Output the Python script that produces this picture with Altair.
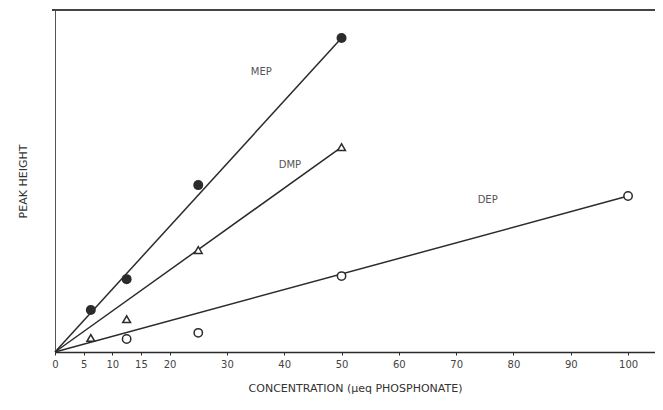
import altair as alt
import pandas as pd

# Data
mep_x = [6.25, 12.5, 25, 50]
mep_y = [12.3, 21.3, 48.8, 91.8]
dmp_x = [6.25, 12.5, 25, 50]
dmp_y = [4.1, 9.6, 29.8, 59.9]
dep_x = [12.5, 25, 50, 100]
dep_y = [3.8, 5.6, 22.2, 45.6]

# fitted lines (origin to end)
fit_series = ["MEP", "MEP", "DMP", "DMP", "DEP", "DEP"]
fit_x = [0, 50, 0, 50, 0, 100]
fit_y = [0, 91.8, 0, 59.9, 0, 45.6]

label_text = ["MEP", "DMP", "DEP"]
label_x = [36, 41, 75.5]
label_y = [82, 54.7, 44.5]

tick_values = [0, 5, 10, 15, 20, 30, 40, 50, 60, 70, 80, 90, 100]

FONT = "DejaVu Sans"
INK = "#2b2b2b"

fit_df = pd.DataFrame({"series": fit_series, "x": fit_x, "y": fit_y})
mep_df = pd.DataFrame({"x": mep_x, "y": mep_y})
dmp_df = pd.DataFrame({"x": dmp_x, "y": dmp_y})
dep_df = pd.DataFrame({"x": dep_x, "y": dep_y})
lab_df = pd.DataFrame({"t": label_text, "x": label_x, "y": label_y})

xscale = alt.Scale(domain=[0, 104.7], nice=False, zero=False)
yscale = alt.Scale(domain=[0, 100], nice=False, zero=False)

xaxis = alt.Axis(values=tick_values, format="d", title="CONCENTRATION (\u03bceq PHOSPHONATE)",
                 grid=False, tickSize=3, labelFontSize=10, labelFont=FONT, labelColor="#444",
                 domainColor=INK, tickColor=INK, domainWidth=1.3, titleFont=FONT,
                 titleFontSize=11, titleFontWeight="normal", titleColor="#333",
                 titlePadding=13, labelPadding=4, labelFlush=False, labelOverlap=False)
yaxis = alt.Axis(labels=False, ticks=False, grid=False, title="PEAK HEIGHT",
                 domainColor="#555", domainWidth=1, titleFont=FONT, titleFontSize=11,
                 titleFontWeight="normal", titleColor="#333", titlePadding=27)

X = alt.X("x:Q", scale=xscale, axis=xaxis)
Y = alt.Y("y:Q", scale=yscale, axis=yaxis)

lines = alt.Chart(fit_df).mark_line(color=INK, strokeWidth=1.5).encode(
    x=X, y=Y, detail="series:N")

mep_pts = alt.Chart(mep_df).mark_point(shape="circle", filled=True, color=INK, size=100, opacity=1).encode(x=X, y=Y)
dmp_pts = alt.Chart(dmp_df).mark_point(shape="triangle-up", filled=True, fill="white", stroke=INK,
                                       strokeWidth=1.5, size=60, opacity=1).encode(x=X, y=Y)
dep_pts = alt.Chart(dep_df).mark_point(shape="circle", filled=True, fill="white", stroke=INK,
                                       strokeWidth=1.5, size=70, opacity=1).encode(x=X, y=Y)

labels = alt.Chart(lab_df).mark_text(font=FONT, fontSize=10, color="#555", align="center").encode(
    x=X, y=Y, text="t:N")

top_rule = alt.Chart(fit_df).mark_rule(color="#444", strokeWidth=1.3).encode(
    x=alt.value(-3), x2=alt.value(600), y=alt.value(0))

chart = alt.layer(top_rule, lines, dep_pts, dmp_pts, mep_pts, labels).properties(
    width=600, height=342,
    autosize=alt.AutoSizeParams(type="none"),
    padding={"left": 47, "top": 2, "right": 0, "bottom": 50},
    background="white",
).configure_view(stroke=None)

chart.save("out.html", embed_options={"renderer": "svg", "actions": False})
